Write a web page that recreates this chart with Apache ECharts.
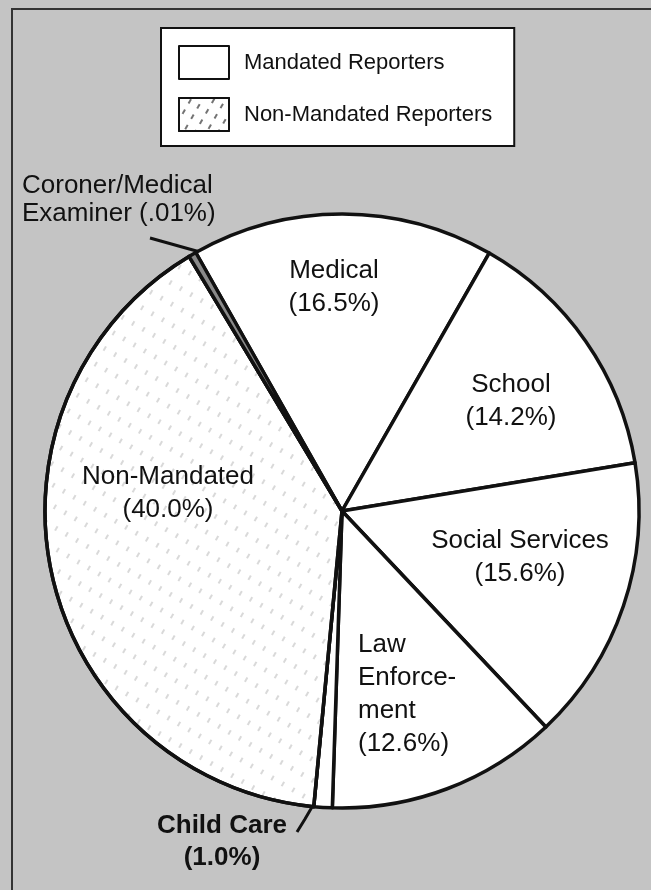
<!DOCTYPE html>
<html style="height: 100%">

<head>
    <meta charset="utf-8">
</head>

<body style="height: 100%; margin: 0">
    <div id="container" style="width: 651px; height: 890px"></div>
    <script src="https://cdn.jsdelivr.net/npm/echarts@6/dist/echarts.min.js"></script>
    <script>
        // clockwise from the Medical slice
        const sources = ['Medical', 'School', 'Social Services', 'Law Enforcement', 'Child Care', 'Non-Mandated', 'Coroner/Medical Examiner'];
        const percents = [16.5, 14.2, 15.6, 12.6, 1.0, 40.0, 0.01];
        const labelNames = ['Medical', 'School', 'Social Services', 'Law\nEnforce-\nment', 'Child Care', 'Non-Mandated', 'Coroner/Medical\nExaminer'];
        const legendNames = ['Mandated Reporters', 'Non-Mandated Reporters'];

        // where each label sits: [x, y, align]
        const labelSpots = [
            [334, 287, 'center'],
            [511, 401, 'center'],
            [520, 557, 'center'],
            [358, 694, 'left'],
            [222, 842, 'center'],
            [168, 493, 'center'],
            [22, 200, 'left']
        ];
        const leaderLines = {
            4: [[312, 807], [305, 819], [297, 832]],
            6: [[200, 252], [175, 245], [150, 238]]
        };

        const fontFamily = '"Liberation Sans", Arial, Helvetica, sans-serif';
        const ink = '#111';

        const hatchSlice = {
            symbol: 'rect',
            symbolSize: 1,
            dashArrayX: [[5, 13]],
            dashArrayY: [1.2, 10],
            rotation: -Math.PI / 3,
            color: 'rgba(0, 0, 0, 0.15)'
        };
        const hatchKey = {
            symbol: 'rect',
            symbolSize: 1,
            dashArrayX: [[5, 7]],
            dashArrayY: [1.4, 8],
            rotation: -Math.PI / 3,
            color: 'rgba(0, 0, 0, 0.55)'
        };

        function pctText(v) {
            return v >= 0.1 ? v.toFixed(1) : String(v).replace(/^0/, '');
        }

        const pieData = sources.map((name, i) => {
            const item = {
                name: name,
                value: percents[i],
                itemStyle: { color: '#fff' },
                label: {
                    position: 'inside',
                    formatter: labelNames[i] + '\n(' + pctText(percents[i]) + '%)'
                },
                labelLine: { show: false }
            };
            if (name === 'Non-Mandated') {
                item.itemStyle.decal = hatchSlice;
            }
            if (name === 'Coroner/Medical Examiner') {
                item.itemStyle.color = '#8a8a8a';
                item.label.position = 'outside';
                item.label.formatter = labelNames[i] + ' (' + pctText(percents[i]) + '%)';
                item.label.lineHeight = 28;
                item.labelLine = { show: true, lineStyle: { color: ink, width: 3 } };
            }
            if (name === 'Child Care') {
                item.label.position = 'outside';
                item.label.fontWeight = 'bold';
                item.label.lineHeight = 32;
                item.labelLine = { show: true, lineStyle: { color: ink, width: 3 } };
            }
            return item;
        });

        const dom = document.getElementById('container');
        const myChart = echarts.init(dom, null, { renderer: 'canvas' });

        const option = {
            backgroundColor: '#c4c4c4',
            animation: false,
            graphic: [{
                type: 'rect',
                silent: true,
                z: 0,
                shape: { x: 12, y: 9, width: 700, height: 1000 },
                style: { fill: null, stroke: '#333', lineWidth: 2 }
            }],
            legend: {
                orient: 'vertical',
                left: 161,
                top: 28,
                backgroundColor: '#fff',
                borderColor: ink,
                borderWidth: 2,
                borderRadius: 0,
                padding: [17, 22, 14, 17],
                itemWidth: 50,
                itemHeight: 33,
                itemGap: 17,
                selectedMode: false,
                textStyle: {
                    color: ink,
                    fontFamily: fontFamily,
                    fontSize: 22,
                    padding: [0, 0, 0, 10]
                },
                data: [
                    {
                        name: legendNames[0],
                        icon: 'rect',
                        itemStyle: { color: '#fff', borderColor: ink, borderWidth: 2 }
                    },
                    {
                        name: legendNames[1],
                        icon: 'rect',
                        itemStyle: { color: '#fff', borderColor: ink, borderWidth: 2, decal: hatchKey }
                    }
                ]
            },
            series: [
                {
                    type: 'pie',
                    center: [342, 511],
                    radius: 297,
                    startAngle: 119.5,
                    clockwise: true,
                    minAngle: 1.5,
                    avoidLabelOverlap: false,
                    itemStyle: {
                        borderColor: ink,
                        borderWidth: 3.5
                    },
                    label: {
                        show: true,
                        color: ink,
                        fontFamily: fontFamily,
                        fontSize: 26,
                        lineHeight: 33
                    },
                    emphasis: { disabled: true },
                    labelLayout: function (params) {
                        const s = labelSpots[params.dataIndex];
                        const out = { x: s[0], y: s[1], align: s[2], verticalAlign: 'middle' };
                        if (leaderLines[params.dataIndex]) {
                            out.labelLinePoints = leaderLines[params.dataIndex];
                        }
                        return out;
                    },
                    data: pieData
                },
                {
                    // only carries the legend entries
                    type: 'pie',
                    radius: 0,
                    silent: true,
                    stillShowZeroSum: false,
                    label: { show: false },
                    labelLine: { show: false },
                    data: legendNames.map(n => ({ name: n, value: 0 }))
                }
            ]
        };

        myChart.setOption(option);
    </script>
</body>

</html>
